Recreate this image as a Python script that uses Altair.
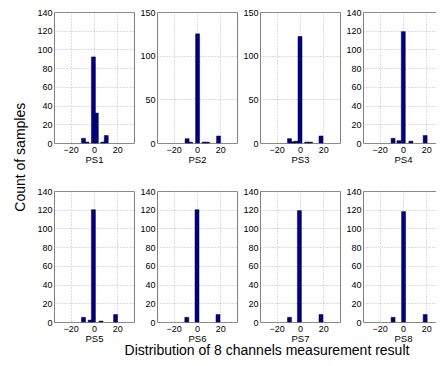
import altair as alt
import pandas as pd

# bin centres (measurement deviation) and counts for each channel
ps1_x = [-9, -6, -0.5, 2, 7.5, 10.5]
ps1_n = [5, 1, 92, 32, 1, 8]
ps2_x = [-8.5, -5.5, 0.5, 6, 9, 18.5]
ps2_n = [5, 1, 125, 1, 1, 8]
ps3_x = [-9, -6, -3.25, 0, 5.75, 9, 18]
ps3_n = [5, 1.5, 2, 122, 1, 1, 8]
ps4_x = [-8.5, -3.5, 0.25, 6.75, 19]
ps4_n = [5, 2.5, 119, 2, 8]
ps5_x = [-9, -3.25, -0.5, 6, 18.5]
ps5_n = [5, 2, 120, 1, 8]
ps6_x = [-8.75, 0, 18]
ps6_n = [5, 120, 8]
ps7_x = [-9, -0.5, 18]
ps7_n = [5, 119, 8]
ps8_x = [-8.5, 0.5, 19]
ps8_n = [5, 118, 8]

names = ["PS1", "PS2", "PS3", "PS4", "PS5", "PS6", "PS7", "PS8"]
xs = [ps1_x, ps2_x, ps3_x, ps4_x, ps5_x, ps6_x, ps7_x, ps8_x]
ns = [ps1_n, ps2_n, ps3_n, ps4_n, ps5_n, ps6_n, ps7_n, ps8_n]
y_max = [140, 150, 150, 140, 140, 140, 140, 140]
y_step = [20, 50, 50, 20, 20, 20, 20, 20]
x_ticks = [-20, 0, 20]

FONT = "Liberation Sans"


def panel(i):
    df = pd.DataFrame({"x": xs[i], "n": ns[i]})
    return alt.Chart(df).mark_bar(
        size=4, color="#000080", stroke="#00003a", strokeWidth=0.5
    ).encode(
        x=alt.X("x:Q",
                scale=alt.Scale(domain=[-30, 30], nice=False, zero=False),
                axis=alt.Axis(values=x_ticks, title=names[i])),
        y=alt.Y("n:Q",
                scale=alt.Scale(domain=[0, y_max[i]], nice=False),
                axis=alt.Axis(values=list(range(0, y_max[i] + 1, y_step[i])), title=None)),
    ).properties(width=80, height=131)


grid = alt.concat(*[panel(i) for i in range(8)], columns=4,
                  spacing={"row": 48, "column": 23}, bounds="flush").properties(
    title=alt.TitleParams("Count of samples", orient="left", anchor="middle",
                          font=FONT, fontSize=14, fontWeight="normal", color="black",
                          offset=8, dx=18)
)

chart = alt.vconcat(grid).properties(
    title=alt.TitleParams("Distribution of 8 channels measurement result", orient="bottom",
                          anchor="middle", font=FONT, fontSize=14, fontWeight="normal",
                          color="black", offset=1, dx=38),
    padding={"left": 6, "top": -1, "right": -8, "bottom": -1},
).configure_view(
    stroke="#808080", strokeWidth=1
).configure_axis(
    labelFont=FONT, labelFontSize=9, labelColor="black",
    titleFont=FONT, titleFontSize=9.5, titleFontWeight="normal", titleColor="black",
    titlePadding=0, labelPadding=2,
    ticks=False, domain=False,
    grid=True, gridColor="#a8a8a8", gridDash=[1, 2], gridWidth=0.8,
)

chart.save("out.html", embed_options={"renderer": "svg", "actions": False})
